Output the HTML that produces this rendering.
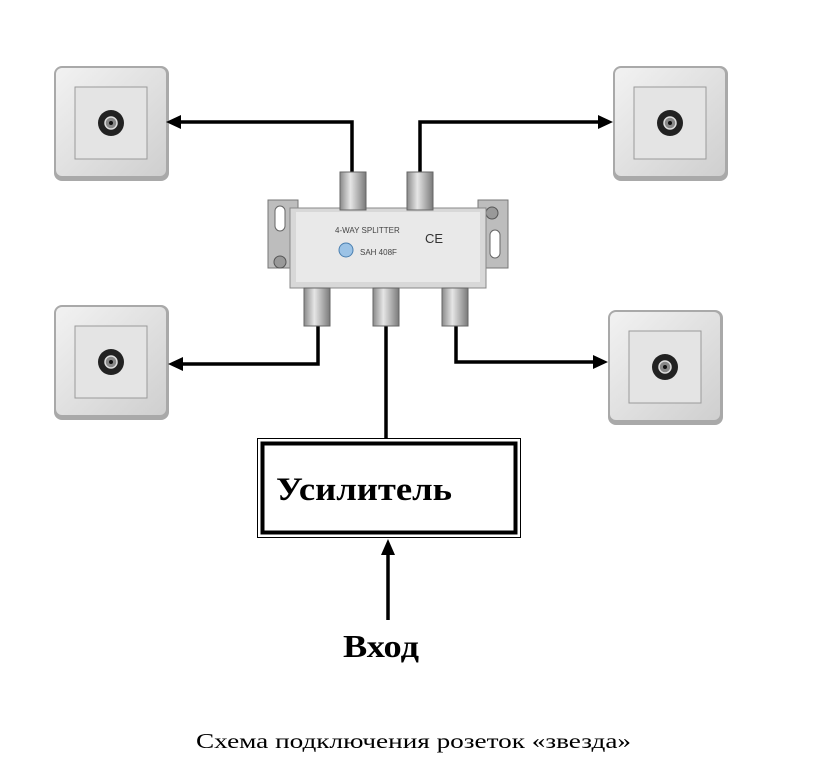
<!DOCTYPE html>
<html><head><meta charset="utf-8"><style>
html,body{margin:0;padding:0;background:#fff;}
svg{display:block;}
</style></head><body>
<svg width="823" height="768" viewBox="0 0 823 768" xmlns="http://www.w3.org/2000/svg">
<defs>
<linearGradient id="plate" x1="0" y1="0" x2="1" y2="1">
<stop offset="0" stop-color="#f2f2f2"/><stop offset="1" stop-color="#cfcfcf"/>
</linearGradient>
<linearGradient id="metal" x1="0" y1="0" x2="1" y2="0">
<stop offset="0" stop-color="#8a8a8a"/><stop offset="0.4" stop-color="#e6e6e6"/><stop offset="1" stop-color="#7a7a7a"/>
</linearGradient>
<g id="sock">
<rect x="0" y="0" width="115" height="115" rx="8" fill="#a9a9a9"/>
<rect x="2" y="2" width="110" height="108" rx="6" fill="url(#plate)"/>
<rect x="21" y="21" width="72" height="72" fill="#e4e4e4" stroke="#9a9a9a" stroke-width="1"/>
<circle cx="57" cy="57" r="13" fill="#222"/>
<circle cx="57" cy="57" r="6" fill="#888" stroke="#ddd" stroke-width="1.5"/>
<circle cx="57" cy="57" r="2" fill="#111"/>
</g>
</defs>
<use href="#sock" x="54" y="66"/>
<use href="#sock" x="613" y="66"/>
<use href="#sock" x="54" y="305"/>
<use href="#sock" x="608" y="310"/>

<!-- connectors lines -->
<g stroke="#000" stroke-width="3.5" fill="none">
<polyline points="352,172 352,122 178,122"/>
<polyline points="420,172 420,122 600,122"/>
<polyline points="318,325 318,364 180,364"/>
<polyline points="456,325 456,362 596,362"/>
<line x1="386" y1="325" x2="386" y2="438"/>
<line x1="388" y1="620" x2="388" y2="552"/>
</g>
<g fill="#000">
<polygon points="166,122 181,115 181,129"/>
<polygon points="613,122 598,115 598,129"/>
<polygon points="168,364 183,357 183,371"/>
<polygon points="608,362 593,355 593,369"/>
<polygon points="388,539 381,555 395,555"/>
</g>

<!-- splitter -->
<g>
<rect x="268" y="200" width="30" height="68" fill="#bdbdbd" stroke="#777"/>
<rect x="275" y="206" width="10" height="25" rx="5" fill="#fff" stroke="#666"/>
<circle cx="280" cy="262" r="6" fill="#999" stroke="#555"/>
<rect x="478" y="200" width="30" height="68" fill="#bdbdbd" stroke="#777"/>
<circle cx="492" cy="213" r="6" fill="#999" stroke="#555"/>
<rect x="490" y="230" width="10" height="28" rx="5" fill="#fff" stroke="#666"/>
<rect x="290" y="208" width="196" height="80" fill="#d8d8d8" stroke="#888"/>
<rect x="296" y="212" width="184" height="70" fill="#e9e9e9"/>
<rect x="340" y="172" width="26" height="38" fill="url(#metal)" stroke="#666"/>
<rect x="407" y="172" width="26" height="38" fill="url(#metal)" stroke="#666"/>
<rect x="304" y="288" width="26" height="38" fill="url(#metal)" stroke="#666"/>
<rect x="373" y="288" width="26" height="38" fill="url(#metal)" stroke="#666"/>
<rect x="442" y="288" width="26" height="38" fill="url(#metal)" stroke="#666"/>
<circle cx="346" cy="250" r="7" fill="#9cc3e6" stroke="#4a7fb0"/>
<text x="425" y="243" font-family="Liberation Sans, sans-serif" font-size="13" fill="#333">CE</text>
<text x="335" y="233" font-family="Liberation Sans, sans-serif" font-size="8" fill="#444">4-WAY SPLITTER</text>
<text x="360" y="255" font-family="Liberation Sans, sans-serif" font-size="8" fill="#444">SAH 408F</text>
</g>

<!-- amplifier -->
<rect x="257.5" y="438.5" width="263" height="99" fill="#fff" stroke="#000" stroke-width="1"/>
<rect x="262.5" y="443.5" width="253" height="89" fill="none" stroke="#000" stroke-width="4"/>
<text x="276" y="500" font-family="Liberation Serif, serif" font-weight="bold" font-size="33" fill="#000" textLength="176" lengthAdjust="spacingAndGlyphs">Усилитель</text>
<text x="343" y="657" font-family="Liberation Serif, serif" font-weight="bold" font-size="32" fill="#000" textLength="76" lengthAdjust="spacingAndGlyphs">Вход</text>
<text x="196" y="748" font-family="Liberation Serif, serif" font-size="21" fill="#000" textLength="435" lengthAdjust="spacingAndGlyphs">Схема подключения розеток «звезда»</text>
</svg>
</body></html>
